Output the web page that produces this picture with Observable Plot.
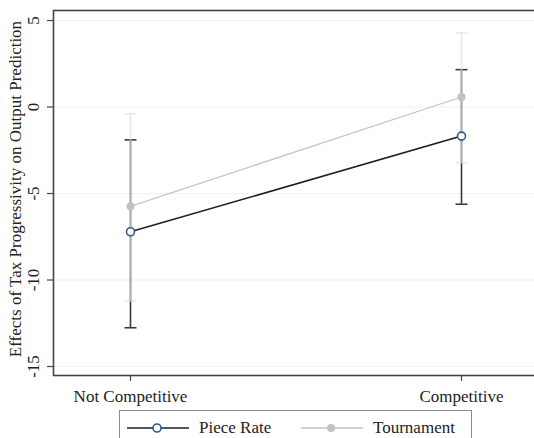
<!DOCTYPE html>
<html>
<head>
<meta charset="utf-8">
<script src="https://cdn.jsdelivr.net/npm/d3@7"></script>
<script src="https://cdn.jsdelivr.net/npm/@observablehq/plot@0.6"></script>
<style>
  html, body { margin: 0; padding: 0; background: #fff; overflow: hidden; }
  #wrap { position: relative; width: 534px; height: 438px; overflow: hidden; }
  #chart { position: absolute; left: 0; top: 0; width: 540px; }
  #chart svg { max-width: none !important; }
  #legend { position: absolute; left: 119px; top: 410px; width: 353px; height: 40px;
            border: 1px solid #8a8a8a; box-sizing: border-box; background: #fff;
            font-family: "Liberation Serif", serif; font-size: 17px; color: #222; }
  .item { position: absolute; top: 5px; height: 24px; display: flex; align-items: center; }
  .item svg { display: block; }
  .item span { margin-left: 10px; }
</style>
</head>
<body>
<div id="wrap">
  <div id="chart"></div>
  <div id="legend"></div>
</div>
<script>
const categories = ["Not Competitive", "Competitive"];
const series = ["Piece Rate", "Tournament"];
const pieceRate = [-7.21, -1.68];
const pieceRateLo = [-12.76, -5.62];
const pieceRateHi = [-1.9, 2.16];
const tournament = [-5.74, 0.58];
const tournamentLo = [-11.2, -3.22];
const tournamentHi = [-0.39, 4.28];
const yTicks = [-15, -10, -5, 0, 5];
const yLabel = "Effects of Tax Progressivity on Output Prediction";

const pr = categories.map((c, i) => ({cat: c, v: pieceRate[i], lo: pieceRateLo[i], hi: pieceRateHi[i]}));
const tr = categories.map((c, i) => ({cat: c, v: tournament[i], lo: tournamentLo[i], hi: tournamentHi[i]}));

// horizontal cap symbol for error bars
const cap = {draw(ctx) { ctx.moveTo(-6, 0); ctx.lineTo(6, 0); }};

const font = "'Liberation Serif', serif";
const chart = Plot.plot({
  width: 540,
  height: 405,
  marginLeft: 53,
  marginRight: 3,
  marginTop: 10,
  marginBottom: 30,
  style: {fontFamily: font, fontSize: "17px", color: "#222", background: "transparent", overflow: "visible"},
  x: {type: "point", domain: categories, padding: 0.229, label: null},
  y: {domain: [-15.52, 5.58], label: null},
  marks: [
    Plot.ruleY(yTicks, {stroke: "#efefef", strokeWidth: 1}),
    // Piece Rate CI
    Plot.ruleX(pr, {x: "cat", y1: "lo", y2: "hi", stroke: "#3a3a3a", strokeWidth: 1.6}),
    Plot.dot(pr, {x: "cat", y: "lo", symbol: cap, fill: "none", stroke: "#3a3a3a", strokeWidth: 1.6}),
    Plot.dot(pr, {x: "cat", y: "hi", symbol: cap, fill: "none", stroke: "#3a3a3a", strokeWidth: 1.6}),
    // Tournament CI
    Plot.ruleX(tr, {x: "cat", y1: "lo", y2: "hi", stroke: "#dedede", strokeOpacity: 0.72, strokeWidth: 1.6}),
    Plot.dot(tr, {x: "cat", y: "lo", symbol: cap, fill: "none", stroke: "#dedede", strokeOpacity: 0.72, strokeWidth: 1.4}),
    Plot.dot(tr, {x: "cat", y: "hi", symbol: cap, fill: "none", stroke: "#dedede", strokeOpacity: 0.72, strokeWidth: 1.4}),
    // lines
    Plot.line(pr, {x: "cat", y: "v", stroke: "#1e1e1e", strokeWidth: 1.6}),
    Plot.line(tr, {x: "cat", y: "v", stroke: "#c4c4c4", strokeWidth: 1.3}),
    Plot.dot(tr, {x: "cat", y: "v", r: 4, fill: "#c2c2c2", stroke: "none"}),
    Plot.dot(pr, {x: "cat", y: "v", r: 4, fill: "white", stroke: "#2c5d8c", strokeWidth: 1.6}),
    Plot.frame({stroke: "#444", strokeWidth: 1.6}),
    Plot.axisY({ticks: yTicks, tickSize: 6, tickFormat: () => "", stroke: "#444", strokeWidth: 1.2}),
    Plot.text(yTicks, {y: d => d, text: d => String(d), frameAnchor: "left", dx: -20, rotate: -90,
      textAnchor: "middle", lineAnchor: "middle", fill: "#222"}),
    Plot.text([yLabel], {text: d => d, frameAnchor: "left", dx: -38, dy: -4, rotate: -90,
      textAnchor: "middle", lineAnchor: "middle", fill: "#222"}),
    Plot.axisX({tickSize: 6, tickPadding: 8, stroke: "#444", strokeWidth: 1.2, fill: "#222"})
  ]
});
document.getElementById("chart").appendChild(chart);

// legend
const legend = document.getElementById("legend");
const legendSpecs = [
  {name: series[0], left: 7, line: "#1e1e1e", lw: 1.6, fill: "white", stroke: "#2c5d8c"},
  {name: series[1], left: 181, line: "#c4c4c4", lw: 1.3, fill: "#c2c2c2", stroke: "none"}
];
for (const s of legendSpecs) {
  const div = document.createElement("div");
  div.className = "item";
  div.style.left = s.left + "px";
  const ns = "http://www.w3.org/2000/svg";
  const svg = document.createElementNS(ns, "svg");
  svg.setAttribute("width", 62); svg.setAttribute("height", 12);
  const ln = document.createElementNS(ns, "line");
  ln.setAttribute("x1", 0); ln.setAttribute("x2", 62); ln.setAttribute("y1", 6); ln.setAttribute("y2", 6);
  ln.setAttribute("stroke", s.line); ln.setAttribute("stroke-width", s.lw);
  const c = document.createElementNS(ns, "circle");
  c.setAttribute("cx", 30); c.setAttribute("cy", 6); c.setAttribute("r", 4);
  c.setAttribute("fill", s.fill); c.setAttribute("stroke", s.stroke); c.setAttribute("stroke-width", 1.6);
  svg.appendChild(ln); svg.appendChild(c);
  const span = document.createElement("span");
  span.textContent = s.name;
  div.appendChild(svg); div.appendChild(span);
  legend.appendChild(div);
}
</script>
</body>
</html>
